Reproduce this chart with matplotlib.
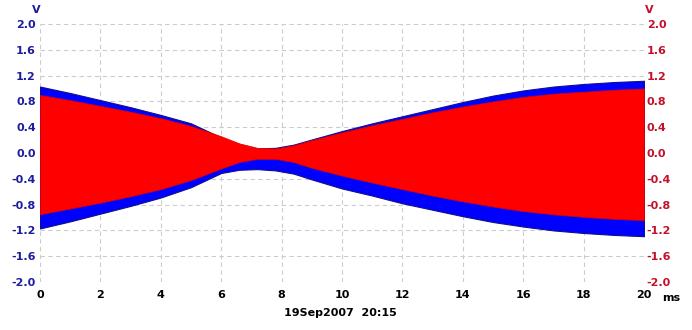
import matplotlib
matplotlib.use("Agg")
import matplotlib.pyplot as plt

# envelope of the two traces (V, time in ms)
t_ms = [0, 1, 2, 3, 4, 5, 6, 6.6, 7.2, 7.8, 8.4, 9, 10, 11, 12, 13, 14, 15, 16, 17, 18, 19, 20]

blue_top = [1.03, 0.93, 0.82, 0.71, 0.59, 0.46, 0.24, 0.13, 0.07, 0.08, 0.13, 0.21, 0.34, 0.46, 0.57,
            0.68, 0.79, 0.89, 0.97, 1.03, 1.07, 1.10, 1.12]
blue_bot = [-1.17, -1.06, -0.94, -0.82, -0.69, -0.53, -0.31, -0.26, -0.25, -0.27, -0.32, -0.41, -0.55,
            -0.66, -0.78, -0.88, -0.98, -1.07, -1.14, -1.20, -1.24, -1.27, -1.29]

red_top = [0.90, 0.82, 0.73, 0.64, 0.54, 0.42, 0.26, 0.15, 0.08, 0.07, 0.12, 0.20, 0.32, 0.43, 0.53,
           0.63, 0.72, 0.80, 0.87, 0.92, 0.95, 0.98, 1.00]
red_bot = [-0.95, -0.86, -0.77, -0.67, -0.56, -0.42, -0.24, -0.14, -0.09, -0.09, -0.14, -0.23, -0.35,
           -0.46, -0.56, -0.66, -0.75, -0.83, -0.90, -0.95, -0.99, -1.02, -1.04]

x_ticks = list(range(0, 21, 2))
y_ticks = [-2.0, -1.6, -1.2, -0.8, -0.4, 0.0, 0.4, 0.8, 1.2, 1.6, 2.0]
stamp = "19Sep2007  20:15"

left_col = "#1c1c9c"
right_col = "#c4102a"

fig = plt.figure(figsize=(6.92, 3.30), dpi=100)
ax = fig.add_axes([40 / 692, 48 / 330, 604 / 692, 258 / 330])

ax.fill_between(t_ms, blue_bot, blue_top, color="#0000ff", edgecolor="#10108c", linewidth=0.8, zorder=2)
ax.fill_between(t_ms, red_bot, red_top, color="#ff0000", edgecolor="#e00000", linewidth=0.5, zorder=3)

ax.set_xlim(0, 20)
ax.set_ylim(-2, 2)
ax.set_xticks(x_ticks)
ax.set_yticks(y_ticks)
ax.set_xticklabels([str(v) for v in x_ticks], fontsize=8, fontweight="bold", color="black")
ax.set_yticklabels(["%.1f" % v for v in y_ticks], fontsize=8, fontweight="bold", color=left_col)
ax.tick_params(length=0, pad=3)
ax.tick_params(axis="x", pad=6)
for s in ax.spines.values():
    s.set_visible(False)
ax.grid(True, color="#cccccc", linestyle=(0, (4, 3)), linewidth=0.8, zorder=0)
ax.set_axisbelow(True)

ax2 = ax.twinx()
ax2.set_ylim(-2, 2)
ax2.set_yticks(y_ticks)
ax2.set_yticklabels(["%.1f" % v for v in y_ticks], fontsize=8, fontweight="bold", color=right_col)
ax2.tick_params(length=0, pad=2)
for s in ax2.spines.values():
    s.set_visible(False)

fig.text(36 / 692, 1 - 10 / 330, "V", ha="center", va="center", fontsize=8, fontweight="bold", color=left_col)
fig.text(649 / 692, 1 - 10 / 330, "V", ha="center", va="center", fontsize=8, fontweight="bold", color=right_col)
fig.text(671 / 692, 1 - 298 / 330, "ms", ha="center", va="center", fontsize=8, fontweight="bold", color="black")
fig.text(340 / 692, 1 - 313 / 330, stamp, ha="center", va="center", fontsize=8, fontweight="bold", color="black")

fig.savefig("out.png", dpi=100)
